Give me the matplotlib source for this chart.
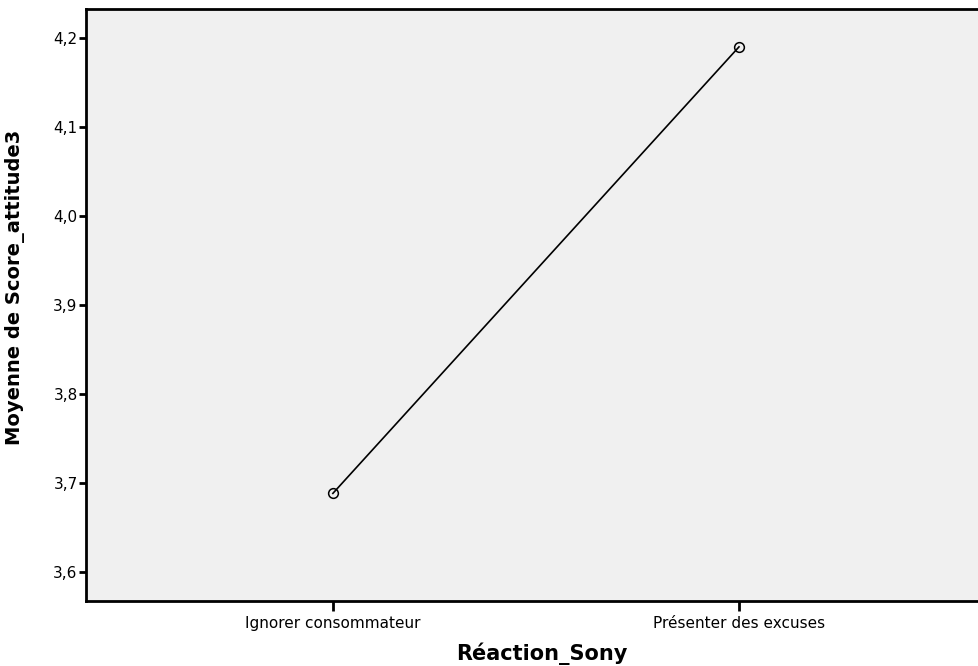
import numpy as np
import matplotlib.pyplot as plt
from matplotlib.ticker import FuncFormatter

plt.rcParams['font.family'] = ['DejaVu Sans']

categories = ["Ignorer consommateur", "Présenter des excuses"]
means = [3.688, 4.190]
yticks = [3.6, 3.7, 3.8, 3.9, 4.0, 4.1, 4.2]

fig = plt.figure(figsize=(9.79, 6.66), dpi=100)
ax = fig.add_axes([0.0878, 0.0976, 0.9122, 0.8889])
ax.set_facecolor('#f0f0f0')

x = np.arange(len(categories))
ax.plot(x, means, color='black', lw=1.2, marker='o', markersize=7,
        markerfacecolor='none', markeredgecolor='black', markeredgewidth=1.1)

ax.set_xlim(-0.608, 1.591)
ax.set_ylim(3.567, 4.2326)
ax.set_xticks(x)
ax.set_xticklabels(categories, fontsize=11)
ax.set_yticks(yticks)
ax.yaxis.set_major_formatter(FuncFormatter(lambda v, p: f"{v:.1f}".replace('.', ',')))
ax.tick_params(axis='y', labelsize=11, length=5, width=2, direction='out', pad=1)
ax.tick_params(axis='x', length=7, width=2, direction='out', pad=4)

for s in ['left', 'bottom', 'top']:
    ax.spines[s].set_linewidth(2)
ax.spines['right'].set_visible(False)

ax.set_xlabel("Réaction_Sony", fontsize=15, fontweight='bold')
ax.set_ylabel("Moyenne de Score_attitude3", fontsize=14, fontweight='bold')
ax.xaxis.set_label_coords(0.51, -0.07)
ax.yaxis.set_label_coords(-0.068, 0.53)

fig.savefig("out.png", dpi=100)
